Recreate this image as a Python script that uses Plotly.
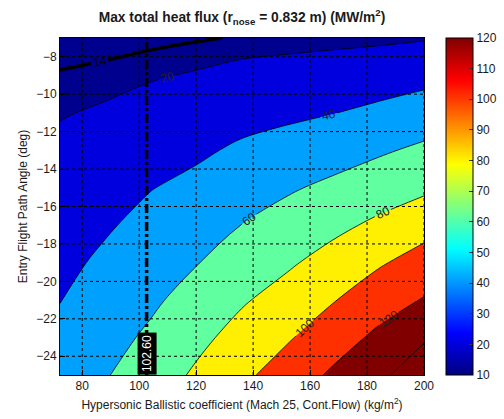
import plotly.graph_objects as go

# ---------------- data ----------------
beta = [72.2, 88, 104, 120, 136, 152, 168, 184, 200]            # kg/m^2
gamma = [-25, -23, -21, -19, -17, -15, -13, -11, -9, -7]          # deg
# max total heat flux (MW/m^2), one row per gamma value (ascending)
heat_flux = [
    [48.0, 58.7, 69.7, 82.8, 95.7, 109.2, 123.0, 135.0, 153.6],
    [44.0, 53.5, 63.1, 75.0, 86.9, 98.0, 111.0, 124.0, 137.6],
    [39.6, 48.4, 56.9, 67.0, 78.0, 87.6, 98.9, 111.3, 121.2],
    [35.5, 43.2, 51.1, 59.2, 69.1, 77.4, 87.1, 97.8, 107.9],
    [31.4, 38.0, 45.3, 51.9, 60.2, 67.7, 75.4, 83.6, 92.9],
    [27.3, 32.6, 39.4, 44.6, 51.6, 57.8, 63.9, 70.5, 76.4],
    [23.3, 27.1, 32.5, 37.0, 42.9, 47.2, 51.9, 57.6, 63.5],
    [19.1, 21.7, 25.6, 29.1, 33.7, 36.6, 39.6, 44.1, 49.3],
    [14.7, 16.2, 18.8, 21.1, 24.1, 26.0, 28.0, 30.7, 34.2],
    [10.0, 10.7, 11.7, 13.2, 14.6, 15.4, 16.3, 17.2, 18.8],
]
limit_level = 14
beta_selected = 102.6
x_ticks = [80, 100, 120, 140, 160, 180, 200]
y_ticks = [-24, -22, -20, -18, -16, -14, -12, -10, -8]
cbar_ticks = [10, 20, 30, 40, 50, 60, 70, 80, 90, 100, 110, 120]
levels = dict(start=20, end=140, size=20)

# ---------------- styling ----------------
band_colors = ["#00008F", "#0000DF", "#00A0FF", "#60FFA0",
               "#FFEF00", "#FF3000", "#800000", "#800000"]
nb = len(band_colors) - 1
band_scale = [[i / nb, c] for i, c in enumerate(band_colors)]
jet = [[0.0, "rgb(0,0,128)"], [0.125, "rgb(0,0,255)"], [0.375, "rgb(0,255,255)"],
       [0.625, "rgb(255,255,0)"], [0.875, "rgb(255,0,0)"], [1.0, "rgb(128,0,0)"]]
FONT = "Liberation Sans, Arial, sans-serif"
TXT = "#1a1a1a"

fig = go.Figure()

fig.add_trace(go.Contour(
    x=beta, y=gamma, z=heat_flux,
    contours=dict(coloring="fill", showlabels=True,
                  labelfont=dict(family=FONT, size=12, color="#222"), **levels),
    colorscale=band_scale, showscale=False,
    line=dict(color="black", width=0.8, smoothing=1.0),
    hoverinfo="skip",
))

fig.add_trace(go.Contour(
    x=beta, y=gamma, z=heat_flux,
    contours=dict(coloring="none", showlabels=True, start=limit_level,
                  end=limit_level, size=1,
                  labelfont=dict(family=FONT, size=12, color="black")),
    line=dict(color="black", width=3.5, smoothing=1.0),
    showscale=False, hoverinfo="skip",
))

fig.add_trace(go.Scatter(
    x=[beta_selected, beta_selected], y=[min(gamma), max(gamma)],
    mode="lines", line=dict(color="black", width=3.5, dash="9px,3px,3px,3px"),
    showlegend=False, hoverinfo="skip",
))

# colour bar (continuous jet, 10..120)
fig.add_trace(go.Scatter(
    x=[None], y=[None], mode="markers",
    marker=dict(color=[cbar_ticks[0]], cmin=cbar_ticks[0], cmax=cbar_ticks[-1],
                colorscale=jet, showscale=True,
                colorbar=dict(x=1.0604, xanchor="left", xpad=0, ypad=0,
                              y=0.5, yanchor="middle", len=1, thickness=27,
                              outlinewidth=1, outlinecolor="black",
                              tickvals=cbar_ticks, ticks="inside", ticklen=4,
                              tickcolor="#333",
                              tickfont=dict(family=FONT, size=12, color=TXT))),
    showlegend=False, hoverinfo="skip",
))

shapes = []
for xv in x_ticks:
    shapes.append(dict(type="line", xref="x", yref="paper", x0=xv, x1=xv, y0=0, y1=1,
                       line=dict(color="black", width=1, dash="3px,3px"), layer="above"))
for yv in y_ticks:
    shapes.append(dict(type="line", xref="paper", yref="y", x0=0, x1=1, y0=yv, y1=yv,
                       line=dict(color="black", width=1, dash="3px,3px"), layer="above"))

fig.update_layout(
    width=504, height=419,
    margin=dict(l=60, r=80, t=38, b=44, autoexpand=False),
    paper_bgcolor="white", plot_bgcolor="white",
    font=dict(family=FONT, size=12, color=TXT),
    title=dict(text="<b>Max total heat flux (r<sub>nose</sub> = 0.832 m) (MW/m<sup>2</sup>)</b>",
               x=0.5, xref="paper", xanchor="center",
               y=1 - 17 / 419, yref="container", yanchor="middle",
               font=dict(family=FONT, size=13.8, color=TXT)),
    shapes=shapes,
    showlegend=False,
    annotations=[dict(text=f"{beta_selected:.2f}", x=beta_selected, y=min(gamma),
                      xref="x", yref="y", xanchor="center", yanchor="bottom",
                      textangle=-90, showarrow=False, bgcolor="black",
                      borderpad=2, font=dict(family=FONT, size=12, color="white"))],
)
fig.update_xaxes(range=[beta[0], beta[-1]], tickvals=x_ticks, showgrid=False, zeroline=False,
                 showline=True, mirror=True, linecolor="black", linewidth=1,
                 ticks="inside", ticklen=5, tickcolor="black", layer="above traces",
                 title=dict(text="Hypersonic Ballistic coefficient (Mach 25, Cont.Flow) (kg/m<sup>2</sup>)",
                            standoff=8, font=dict(size=12)))
fig.update_yaxes(range=[min(gamma), max(gamma)], tickvals=y_ticks, showgrid=False, zeroline=False,
                 showline=True, mirror=True, linecolor="black", linewidth=1,
                 ticks="inside", ticklen=5, tickcolor="black", layer="above traces",
                 title=dict(text="Entry Flight Path Angle (deg)", standoff=6, font=dict(size=12)))

fig.write_html("out.html")
